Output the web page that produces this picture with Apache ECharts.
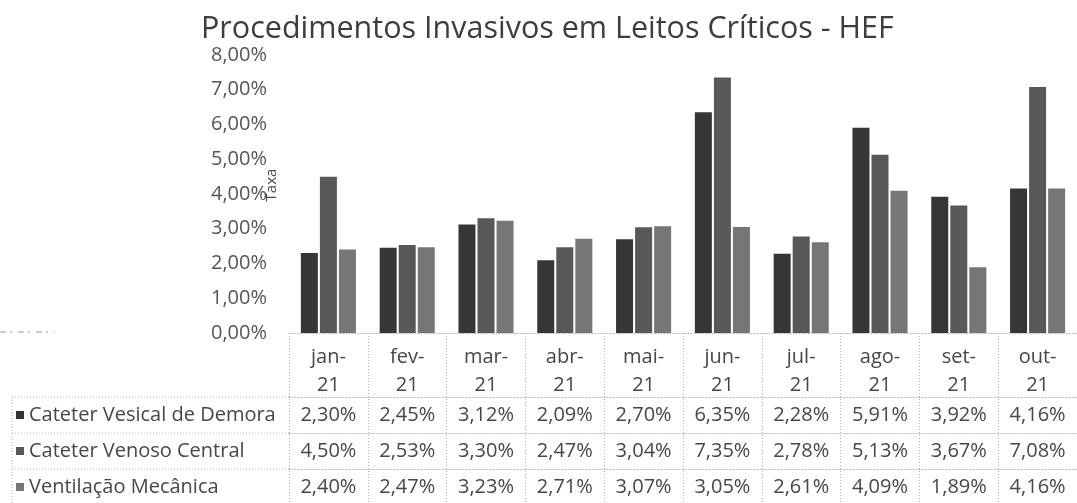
<!DOCTYPE html>
<html>
<head>
<meta charset="utf-8">
<style>
  html, body { margin: 0; padding: 0; background: #ffffff; }
  #chart { width: 1077px; height: 503px; }
</style>
<script src="https://cdn.jsdelivr.net/npm/echarts@6/dist/echarts.min.js"></script>
</head>
<body>
<div id="chart"></div>
<script>
// Monthly rates (%) of invasive procedures in critical care beds, 2021
const months = ['jan', 'fev', 'mar', 'abr', 'mai', 'jun', 'jul', 'ago', 'set', 'out'];
const yearLabel = '21';
const seriesNames = ['Cateter Vesical de Demora', 'Cateter Venoso Central', 'Ventilação Mecânica'];
const vesical = [2.30, 2.45, 3.12, 2.09, 2.70, 6.35, 2.28, 5.91, 3.92, 4.16];
const venoso = [4.50, 2.53, 3.30, 2.47, 3.04, 7.35, 2.78, 5.13, 3.67, 7.08];
const ventilacao = [2.40, 2.47, 3.23, 2.71, 3.07, 3.05, 2.61, 4.09, 1.89, 4.16];
const yTicks = [0, 1, 2, 3, 4, 5, 6, 7, 8];

const seriesData = [vesical, venoso, ventilacao];
const barColors = ['#363636', '#585858', '#767676'];

const FONT = '"Open Sans", "DejaVu Sans", sans-serif';
const TEXT = '#474747';
const BORDER = '#b4b4b4';
const TABLE_FONT_SIZE = 20;

// plot area geometry
const GRID_LEFT = 289, GRID_TOP = 55, GRID_HEIGHT = 278, GRID_WIDTH = 804;
const HEADER_OFFSET = 10;      // data table header sits just under the plot
const HEADER_HEIGHT = 54;
const ROW_HEIGHT = 36;

const pct = v => v.toFixed(2).replace('.', ',') + '%';

const baseY = GRID_TOP + GRID_HEIGHT;
const rowTop = i => baseY + HEADER_OFFSET + HEADER_HEIGHT + i * ROW_HEIGHT;

const dotted = { color: BORDER, width: 1, type: [1, 2] };

// header axis: month names plus the table's outer top border and column rules
const xAxes = [{
  type: 'category',
  data: months,
  gridIndex: 0,
  position: 'bottom',
  offset: HEADER_OFFSET,
  axisLine: { show: true, lineStyle: dotted },
  axisTick: { show: true, interval: 0, length: HEADER_HEIGHT + ROW_HEIGHT * 3 + 10, lineStyle: dotted },
  axisLabel: {
    interval: 0, margin: 0, verticalAlign: 'top',
    formatter: v => v + '-\n' + yearLabel,
    fontFamily: FONT, fontSize: TABLE_FONT_SIZE, lineHeight: 28, color: TEXT
  },
  splitLine: { show: false }
}];

// one axis per table row, carrying that row's values
seriesData.forEach((vals, r) => {
  xAxes.push({
    type: 'category',
    data: months,
    gridIndex: 0,
    position: 'bottom',
    offset: rowTop(r) - baseY,
    axisLine: { show: true, lineStyle: dotted },
    axisTick: { show: false },
    axisLabel: {
      interval: 0, margin: ROW_HEIGHT / 2, verticalAlign: 'middle',
      formatter: (v, idx) => pct(vals[idx]),
      fontFamily: FONT, fontSize: TABLE_FONT_SIZE, color: TEXT
    },
    splitLine: { show: false }
  });
});

// borders of the legend column, left of the plot
const legendBorders = [];
for (let r = 0; r < seriesData.length; r++) {
  legendBorders.push({
    type: 'line', silent: true,
    shape: { x1: 12, y1: rowTop(r), x2: GRID_LEFT, y2: rowTop(r) },
    style: { stroke: BORDER, lineWidth: 1, lineDash: [1, 2] }
  });
}
legendBorders.push({
  type: 'line', silent: true,
  shape: { x1: 12, y1: rowTop(0), x2: 12, y2: 503 },
  style: { stroke: BORDER, lineWidth: 1, lineDash: [1, 2] }
});
// faint leftover rule beside the zero line
legendBorders.push({
  type: 'line', silent: true,
  shape: { x1: 0, y1: baseY - 1, x2: 55, y2: baseY - 1 },
  style: { stroke: '#9a9a9a', lineWidth: 1, lineDash: [6, 4, 2, 6] }
});

const option = {
  backgroundColor: '#ffffff',
  animation: false,
  title: {
    text: 'Procedimentos Invasivos em Leitos Críticos - HEF',
    left: 201, top: 14, padding: 0,
    textStyle: { fontFamily: FONT, fontSize: 30.5, fontWeight: 'normal', color: '#3d3d3d' }
  },
  legend: {
    orient: 'vertical',
    left: 16, top: rowTop(0) + 6,
    padding: 0,
    itemWidth: 8, itemHeight: 8,
    itemGap: ROW_HEIGHT - 24,
    icon: 'rect',
    textStyle: { fontFamily: FONT, fontSize: TABLE_FONT_SIZE, color: TEXT, lineHeight: 24 },
    selectedMode: false,
    data: seriesNames
  },
  grid: { left: GRID_LEFT, top: GRID_TOP, width: GRID_WIDTH, height: GRID_HEIGHT, containLabel: false },
  xAxis: xAxes,
  yAxis: {
    type: 'value',
    min: yTicks[0], max: yTicks[yTicks.length - 1], interval: 1,
    name: 'Taxa', nameLocation: 'middle', nameRotate: 90, nameGap: 10,
    nameMoveOverlap: false,
    nameTextStyle: { fontFamily: FONT, fontSize: 15, color: TEXT, padding: [0, 0, 0, 18] },
    axisLine: { show: false }, axisTick: { show: false },
    splitLine: { show: false },
    axisLabel: { margin: 22, formatter: v => pct(v), fontFamily: FONT, fontSize: TABLE_FONT_SIZE, color: '#555555' }
  },
  series: seriesNames.map((name, i) => ({
    name,
    type: 'bar',
    xAxisIndex: 0,
    data: seriesData[i],
    barWidth: 17,
    barGap: '12%',
    itemStyle: { color: barColors[i] }
  })),
  graphic: legendBorders
};

const chart = echarts.init(document.getElementById('chart'), null, { renderer: 'canvas' });
chart.setOption(option);
</script>
</body>
</html>
